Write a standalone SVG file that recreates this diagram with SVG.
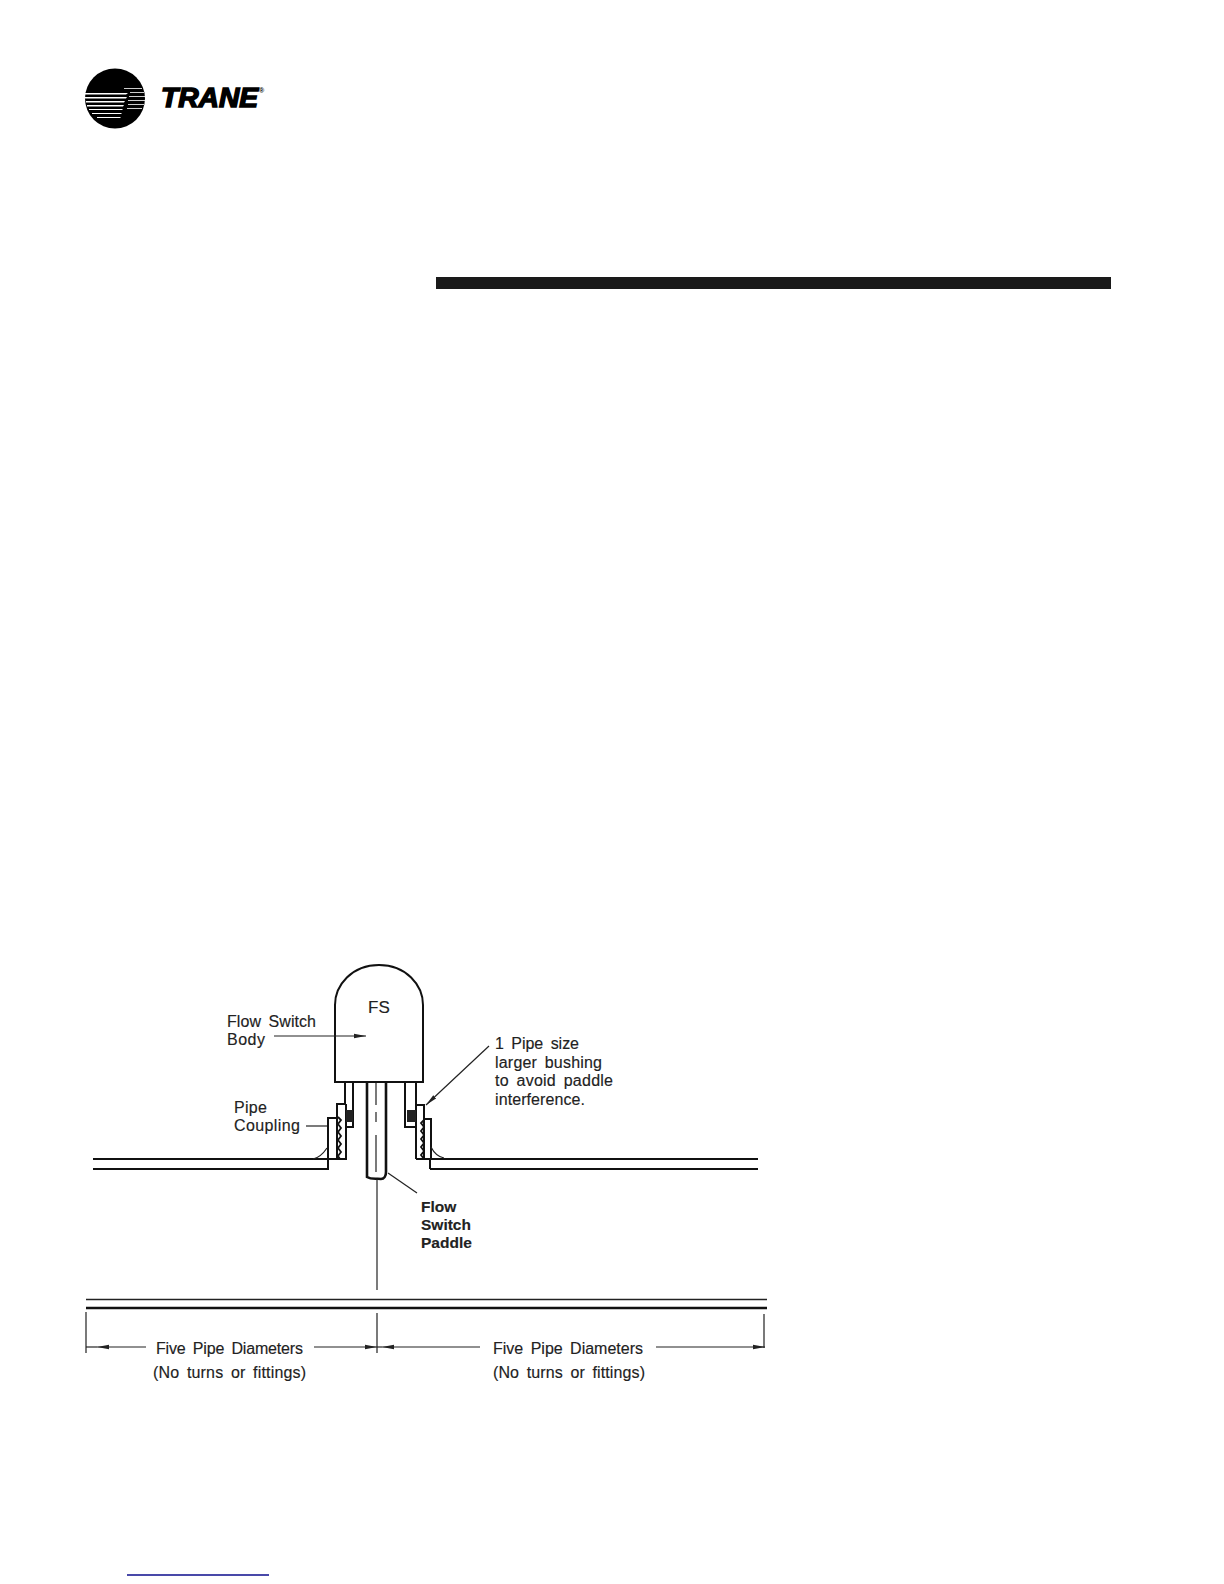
<svg xmlns="http://www.w3.org/2000/svg" width="1224" height="1584" viewBox="0 0 1224 1584">
<style>
text{font-family:"Liberation Sans",Arial,sans-serif;font-size:16px;fill:#222;stroke:#222;stroke-width:.15;word-spacing:3px}
.b{stroke:#111;fill:none;stroke-width:2}
.t{stroke:#222;fill:none;stroke-width:1.2}
.k{stroke:#111;fill:none;stroke-width:2.6}
.th{stroke:#111;fill:none;stroke-width:1.8}
text.bold{font-weight:bold;font-size:15.5px;word-spacing:0}
</style>
<defs>
<marker id="ah" markerUnits="userSpaceOnUse" markerWidth="13" markerHeight="6" refX="12" refY="3" orient="auto-start-reverse"><path d="M0 0.8L12 3L0 5.2Z" fill="#222"/></marker>
</defs>
<rect width="1224" height="1584" fill="#fff"/>
<g id="logo">
<circle cx="115" cy="98.5" r="30" fill="#000"/>
<g fill="#fff">
<path d="M85 93H128L126 94.5H85Z"/><path d="M85 97H127L126 98.5H85Z"/><path d="M86 101H125L124 102.5H86Z"/>
<path d="M87 105H124L123 106.5H87Z"/><path d="M89 109H123L122 110H89Z"/><path d="M92 113H122L121 114H92Z"/>
<path d="M97 117H121L120 118H97Z"/><path d="M124 88H142V88.8H124Z"/><path d="M130 92H144V92.8H130Z"/>
<path d="M129 96H145V96.8H129Z"/><path d="M128 100H145V100.8H128Z"/><path d="M128 104H144V104.8H128Z"/><path d="M127 108H142V108.8H127Z"/>
</g>
<text x="161" y="107" textLength="97" lengthAdjust="spacingAndGlyphs" style="font-size:27px;font-weight:bold;font-style:italic;fill:#000;stroke:#000;stroke-width:1.5">TRANE</text>
<text x="259" y="93" style="font-size:7px;font-weight:bold;fill:#000;stroke:none">®</text>
</g>
<rect id="rule" x="436" y="277" width="675" height="12" fill="#1a1a1a"/>
<line id="footer-rule" x1="127" y1="1575" x2="269" y2="1575" stroke="#0c0c8c" stroke-width="1.6"/>
<g id="flow-switch-body">
<path class="b" d="M335 1082V1005C335 985 352 965 379 965C406 965 423 985 423 1005V1082Z"/>
<text x="368" y="1013" style="font-size:17px;word-spacing:0">FS</text>
</g>
<g id="left-fitting">
<path class="b" d="M345 1083V1104M353 1083V1127H346"/>
<path class="b" d="M346 1104H337V1159H346V1104"/>
<path class="b" d="M337 1118H328V1169"/>
<path class="th" d="M338 1117l3 3l-3 4l3 4l-3 4l3 4l-3 4l3 4l-3 4l3 4l-3 4l2 3"/>
<path d="M346 1110h7v12h-7z" fill="#222"/>
</g>
<g id="right-fitting">
<path class="b" d="M405 1083V1127H416M416 1083V1159"/>
<path class="b" d="M416 1105H424V1159H416"/>
<path class="b" d="M424 1119H431V1159M430 1159V1169"/>
<path class="th" d="M424 1120l-3 3l3 4l-3 4l3 4l-3 4l3 4l-3 4l3 4l-3 4l3 4"/>
<path d="M407 1110h9v12h-9z" fill="#222"/>
</g>
<g id="paddle">
<path class="k" d="M367 1083V1177C372 1180 378 1178 381 1179C384 1179 386 1176 386 1172V1083"/>
<path class="t" d="M376 1083V1105M376 1112V1122M376 1135V1172"/>
<line class="t" x1="377" y1="1179" x2="377" y2="1290"/>
</g>
<g id="pipe-wall">
<path class="b" d="M93 1159H337M93 1169H329M417 1159H758M430 1169H758"/>
<path class="t" d="M327 1148C323 1154 318 1158 313 1159M431 1147C434 1153 439 1157 444 1158"/>
</g>
<g id="pipe-wall-lower">
<line class="t" x1="86" y1="1299.5" x2="767" y2="1299.5" style="stroke-width:1.6"/>
<line class="k" x1="86" y1="1308" x2="767" y2="1308"/>
</g>
<g id="connectors">
<line class="t" x1="274" y1="1036" x2="366" y2="1036" marker-end="url(#ah)"/>
<line class="t" x1="306" y1="1126" x2="327" y2="1126"/>
<line class="t" x1="489" y1="1046" x2="426" y2="1105" marker-end="url(#ah)"/>
<line class="t" x1="388" y1="1173" x2="417" y2="1193"/>
<path class="t" d="M86 1312V1353M377 1313V1353M764 1314V1348"/>
<line class="t" x1="146" y1="1347" x2="97" y2="1347" marker-end="url(#ah)"/>
<line class="t" x1="97" y1="1347" x2="86" y2="1347"/>
<line class="t" x1="314" y1="1347" x2="377" y2="1347" marker-end="url(#ah)"/>
<line class="t" x1="480" y1="1347" x2="382" y2="1347" marker-end="url(#ah)"/>
<line class="t" x1="382" y1="1347" x2="377" y2="1347"/>
<line class="t" x1="656" y1="1347" x2="765" y2="1347" marker-end="url(#ah)"/>
</g>
<g id="labels">
<text x="227" y="1027" textLength="89">Flow Switch</text>
<text x="227" y="1045" textLength="38">Body</text>
<text x="234" y="1113" textLength="33">Pipe</text>
<text x="234" y="1131" textLength="66">Coupling</text>
<text x="495" y="1049" textLength="84">1 Pipe size</text>
<text x="495" y="1068" textLength="107">larger bushing</text>
<text x="495" y="1086" textLength="118">to avoid paddle</text>
<text x="495" y="1105" textLength="90">interference.</text>
<text class="bold" x="421" y="1212">Flow</text>
<text class="bold" x="421" y="1230">Switch</text>
<text class="bold" x="421" y="1248">Paddle</text>
<text x="156" y="1354" textLength="147">Five Pipe Diameters</text>
<text x="153" y="1378" textLength="153">(No turns or fittings)</text>
<text x="493" y="1354" textLength="150">Five Pipe Diameters</text>
<text x="493" y="1378" textLength="152">(No turns or fittings)</text>
</g>
</svg>
